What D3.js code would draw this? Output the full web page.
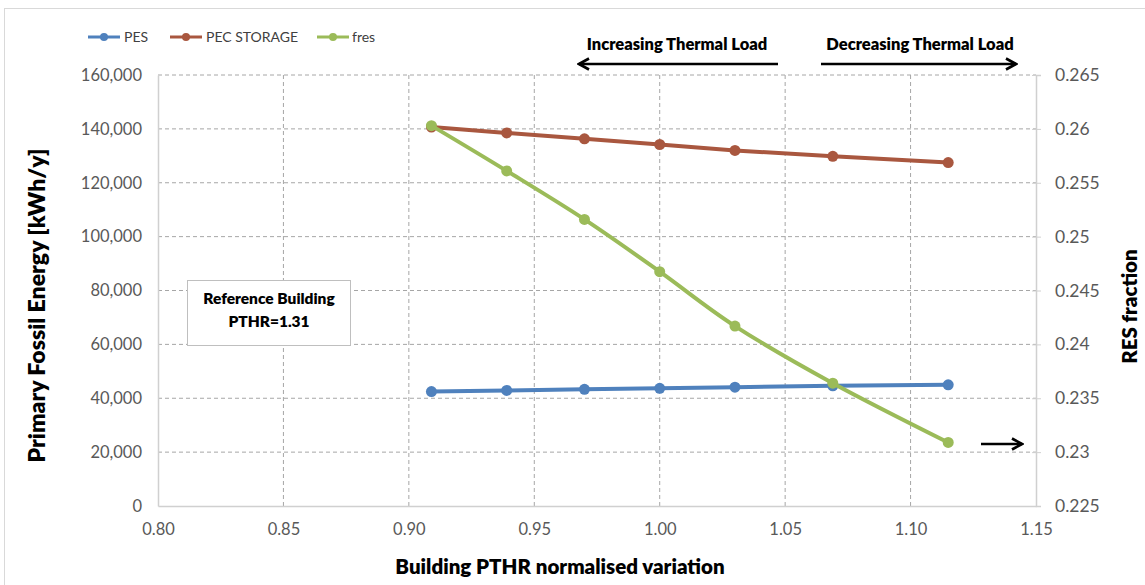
<!DOCTYPE html>
<html><head><meta charset="utf-8">
<script src="https://cdn.jsdelivr.net/npm/d3@7"></script>
<style>body{margin:0;background:#fff}svg{display:block}text{font-family:Lato,"Open Sans",sans-serif}</style>
</head><body><svg id="c" width="1145" height="585"></svg>
<script>
const xValues = [0.909, 0.939, 0.970, 1.000, 1.030, 1.069, 1.115];
const pes = [42500, 42900, 43300, 43700, 44100, 44600, 45000];
const pecStorage = [140700, 138500, 136300, 134200, 132000, 129800, 127500];
const fres = [0.2603, 0.2561, 0.2516, 0.24675, 0.2417, 0.2364, 0.2309];
const xTicks = [0.80, 0.85, 0.90, 0.95, 1.00, 1.05, 1.10, 1.15];
const yLeftTicks = [0, 20000, 40000, 60000, 80000, 100000, 120000, 140000, 160000];
const yRightTicks = [0.225, 0.23, 0.235, 0.24, 0.245, 0.25, 0.255, 0.26, 0.265];
const seriesNames = ["PES", "PEC STORAGE", "fres"];

const svg = d3.select("#c");
const L = 158, R = 1036, T = 75, B = 506;
const x = d3.scaleLinear().domain([0.80, 1.15]).range([L, R]);
const yL = d3.scaleLinear().domain([0, 160000]).range([B, T]);
const yR = d3.scaleLinear().domain([0.225, 0.265]).range([B, T]);
const colors = ["#4F81BD", "#A9573F", "#9BBB59"];

svg.append("rect").attr("x", 4.5).attr("y", 8.5).attr("width", 1150).attr("height", 600)
  .attr("fill", "#fff").attr("stroke", "#d9d9d9");

// grid
const grid = svg.append("g").attr("stroke", "#a6a6a6").attr("stroke-dasharray", "4,3").attr("stroke-width", 1);
yLeftTicks.filter(d => d > 0).forEach(d => grid.append("line").attr("x1", L).attr("x2", R).attr("y1", yL(d)).attr("y2", yL(d)));
xTicks.filter(d => d > 0.8 && d < 1.15).forEach(d => grid.append("line").attr("x1", x(d)).attr("x2", x(d)).attr("y1", T).attr("y2", B));

// axes
const fmt = d3.format(",");
const axL = svg.append("g").attr("transform", `translate(${L},0)`).call(d3.axisLeft(yL).tickValues(yLeftTicks).tickFormat(fmt).tickSize(0).tickPadding(16));
const axR = svg.append("g").attr("transform", `translate(${R},0)`).call(d3.axisRight(yR).tickValues(yRightTicks).tickFormat(d => d3.format("")(+d.toFixed(3))).tickSize(5).tickPadding(14));
axR.selectAll(".tick line").attr("x1", -4);
const axB = svg.append("g").attr("transform", `translate(0,${B})`).call(d3.axisBottom(x).tickValues(xTicks).tickFormat(d3.format(".2f")).tickSize(0).tickPadding(17));
[axL, axR, axB].forEach(a => {
  a.select(".domain").attr("stroke", "#d0d0d0").attr("stroke-width", 1.5);
  a.selectAll(".tick line").attr("stroke", "#d0d0d0");
  a.selectAll("text").attr("fill", "#595959").attr("font-size", 16.5).style("font-family", "Lato, sans-serif");
});
axR.selectAll("text").attr("font-size", 17.5);

// lines
const mk = (vals, ys, curve) => d3.line().x((d, i) => x(xValues[i])).y(d => ys(d)).curve(curve);
const data = [[pes, yL, d3.curveLinear], [pecStorage, yL, d3.curveLinear], [fres, yR, d3.curveCatmullRom.alpha(0)]];
data.forEach(([vals, ys, curve], k) => {
  svg.append("path").datum(vals).attr("d", mk(vals, ys, curve)).attr("fill", "none")
    .attr("stroke", colors[k]).attr("stroke-width", 4).attr("stroke-linejoin", "round");
  svg.append("g").selectAll("circle").data(vals).join("circle")
    .attr("cx", (d, i) => x(xValues[i])).attr("cy", d => ys(d)).attr("r", 5.5).attr("fill", colors[k]);
});

// axis titles
svg.append("text").attr("transform", `translate(45,${(T + B) / 2 + 15}) rotate(-90)`).attr("text-anchor", "middle")
  .attr("font-weight", 800).attr("font-size", 23).attr("fill", "#000").text("Primary Fossil Energy [kWh/y]");
svg.append("text").attr("transform", `translate(1137,${(T + B) / 2 + 16}) rotate(-90)`).attr("text-anchor", "middle")
  .attr("font-weight", 800).attr("font-size", 20.5).attr("fill", "#000").text("RES fraction");
svg.append("text").attr("x", 560).attr("y", 574).attr("text-anchor", "middle")
  .attr("font-weight", 800).attr("font-size", 20.5).attr("fill", "#000").text("Building PTHR normalised variation");

// legend
const lg = [[88, 124], [170, 206], [317, 352]];
seriesNames.forEach((n, k) => {
  const [lx, tx] = lg[k];
  svg.append("line").attr("x1", lx).attr("x2", lx + 32).attr("y1", 37).attr("y2", 37).attr("stroke", colors[k]).attr("stroke-width", 3);
  svg.append("circle").attr("cx", lx + 16).attr("cy", 37).attr("r", 4).attr("fill", colors[k]);
  svg.append("text").attr("x", tx).attr("y", 42).attr("font-size", 14).attr("fill", "#404040").text(n);
});

// arrows
svg.append("defs").html('<marker id="ah" viewBox="0 0 14 14" refX="12" refY="7" markerWidth="14" markerHeight="14" markerUnits="userSpaceOnUse" orient="auto"><path d="M2,1.5 L12,7 L2,12.5" fill="none" stroke="#000" stroke-width="2.6"/></marker>');
const arrow = (x1, x2, y) => svg.append("line").attr("x1", x1).attr("x2", x2).attr("y1", y).attr("y2", y)
  .attr("stroke", "#000").attr("stroke-width", 2.6).attr("marker-end", "url(#ah)");
arrow(778, 579, 64);
arrow(821, 1016, 64);
arrow(981, 1022, 444);
svg.append("text").attr("x", 677).attr("y", 50).attr("text-anchor", "middle").attr("font-weight", 800).attr("font-size", 16.5).attr("fill", "#000").text("Increasing Thermal Load");
svg.append("text").attr("x", 920).attr("y", 50).attr("text-anchor", "middle").attr("font-weight", 800).attr("font-size", 16.5).attr("fill", "#000").text("Decreasing Thermal Load");

// reference box
svg.append("rect").attr("x", 187.5).attr("y", 280.5).attr("width", 163).attr("height", 65).attr("fill", "#fff").attr("stroke", "#bfbfbf");
svg.append("text").attr("x", 269).attr("y", 304).attr("text-anchor", "middle").attr("font-weight", 800).attr("font-size", 15.5).attr("fill", "#000").text("Reference Building");
svg.append("text").attr("x", 269).attr("y", 327).attr("text-anchor", "middle").attr("font-weight", 800).attr("font-size", 15.5).attr("fill", "#000").text("PTHR=1.31");
</script></body></html>
